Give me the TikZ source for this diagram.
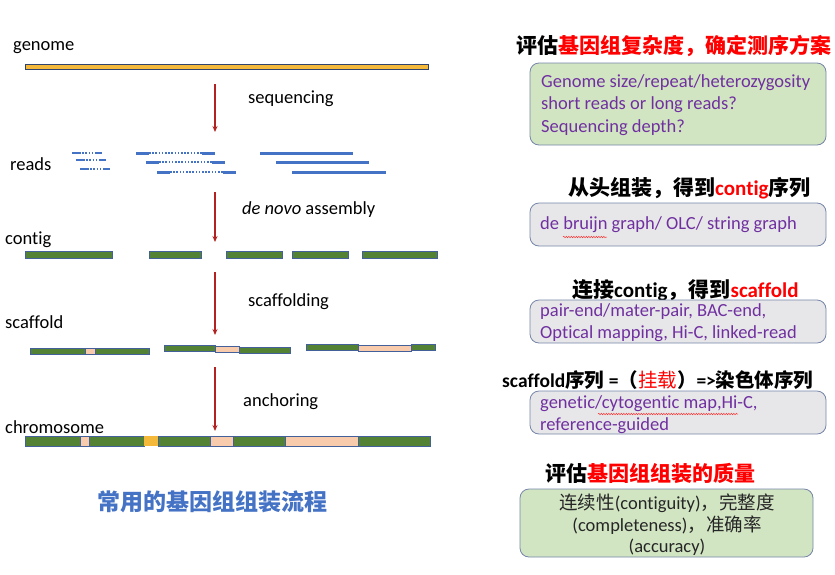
\documentclass[tikz,border=0pt]{standalone}
\usepackage{fontspec}
\setmainfont{Carlito}[Ligatures=NoCommon]
\newfontfamily\lat{Carlito}[Ligatures=NoCommon]
\newfontfamily\cjk{Noto Sans CJK SC}
\usetikzlibrary{arrows.meta,decorations.pathmorphing}
\definecolor{readblue}{HTML}{4472C4}
\definecolor{cgreen}{HTML}{548235}
\definecolor{peach}{HTML}{F8CBAD}
\definecolor{gold}{HTML}{F4B93A}
\definecolor{outl}{HTML}{44609A}
\definecolor{arr}{HTML}{B22222}
\definecolor{boxgreen}{HTML}{D2E5C3}
\definecolor{boxgray}{HTML}{E7E7E9}
\definecolor{boxline}{HTML}{7585A8}
\definecolor{purp}{HTML}{7030A0}
\definecolor{tred}{HTML}{FF0000}
\begin{document}
\begin{tikzpicture}[x=1pt,y=-1pt,
  lab/.style={anchor=west,inner sep=0,font=\fontsize{18.5}{20}\selectfont},
  seg/.style={draw=outl,line width=0.6pt},
  gseg/.style={seg,fill=cgreen},
  pseg/.style={seg,fill=peach},
  yseg/.style={seg,fill=gold},
  rd/.style={readblue,line width=3pt},
  rdot/.style={readblue,line width=1.6pt,dash pattern=on 1.6pt off 1.6pt},
  flow/.style={arr,line width=1.1pt,-{Stealth[length=6pt,width=5pt]}},
  infobox/.style={draw=boxline,line width=0.8pt,rounded corners=9pt},
  boxtxt/.style={anchor=west,inner sep=0,text=purp,font=\fontsize{18.5}{20}\selectfont},
  ttl/.style={anchor=west,inner sep=0,font=\cjk\bfseries\fontsize{21}{23}\selectfont},
  wavy/.style={red!80,line width=0.5pt,decorate,decoration={snake,amplitude=0.7pt,segment length=2.5pt}}
]
\useasboundingbox (0,0) rectangle (835,574);
% left labels
\node[lab] (lgen) at (13,48) {genome};
\node[lab] (lreads) at (10,164) {reads};
\node[lab] (lcont) at (5,240) {contig};
\node[lab] (lscaf) at (5,322) {scaffold};
\node[lab] (lchr) at (5,427) {chromosome};
\node[lab] (lseq) at (248,99) {sequencing};
\node[lab] (lden) at (242,210) {\textit{de novo} assembly};
\node[lab] (lsf) at (248,302) {scaffolding};
\node[lab] (lanc) at (243,402) {anchoring};
% genome bar
\draw[draw=outl!70!black,line width=0.6pt,fill=gold] (25,64) rectangle (428,69);
% reads: small
\foreach \x/\y in {72/153,76/160,80/169}{
  \draw[rd,line width=2.4pt] (\x,\y) -- ++(7,0);
  \draw[rdot] (\x+7,\y) -- ++(17,0);
  \draw[rd,line width=2.4pt] (\x+24,\y) -- ++(6,0);
}
\foreach \x/\y in {136/153,146/162,157/172}{
  \draw[rd] (\x,\y) -- ++(13,0);
  \draw[rdot] (\x+13,\y) -- ++(53,0);
  \draw[rd] (\x+66,\y) -- ++(13,0);
}
\draw[rd] (260,153) -- (353,153);
\draw[rd] (276,162) -- (369,162);
\draw[rd] (292,172) -- (386,172);
% contigs
\foreach \a/\b in {25/112,149/201,226/282,292/348,362/437}{
  \draw[gseg] (\a,251) rectangle (\b,258);
}
% scaffolds
\draw[gseg] (30,348) rectangle (85,354);
\draw[pseg] (85,348) rectangle (95,354);
\draw[gseg] (95,348) rectangle (149,354);
\draw[gseg] (164,345) rectangle (215,351);
\draw[pseg] (215,346) rectangle (239,352);
\draw[gseg] (239,347) rectangle (290,353);
\draw[gseg] (306,344) rectangle (358,350);
\draw[pseg] (358,345) rectangle (411,351);
\draw[gseg] (411,344) rectangle (435,350);
% chromosome
\draw[gseg] (25,436) rectangle (80,446);
\draw[pseg] (80,436) rectangle (89,446);
\draw[gseg] (89,436) rectangle (144,446);
\draw[yseg,draw=none] (144,436) rectangle (158,446);
\draw[gseg] (158,436) rectangle (210,446);
\draw[pseg] (210,436) rectangle (233,446);
\draw[gseg] (233,436) rectangle (285,446);
\draw[pseg] (285,436) rectangle (358,446);
\draw[gseg] (358,436) rectangle (430,446);
% arrows
\coordinate (a1s) at (215,84); \coordinate (a1e) at (215,132);
\coordinate (a2s) at (215,192); \coordinate (a2e) at (215,242);
\coordinate (a3s) at (215,272); \coordinate (a3e) at (215,335);
\coordinate (a4s) at (215,367); \coordinate (a4e) at (215,431);
\draw[flow] (a1s) -- (a1e);
\draw[flow] (a2s) -- (a2e);
\draw[flow] (a3s) -- (a3e);
\draw[flow] (a4s) -- (a4e);
% caption
\node[inner sep=0,text=readblue,font=\cjk\bfseries\fontsize{23}{25}\selectfont] (cap) at (212,502) {常用的基因组组装流程};
% right side
\node[ttl] (t1) at (516,46) {评估\textcolor{tred}{基因组复杂度，确定测序方案}};
\draw[infobox,fill=boxgreen] (530,63) rectangle (826,145);
\node[boxtxt] (b1a) at (541,83) {Genome size/repeat/heterozygosity};
\node[boxtxt] (b1b) at (541,105) {short reads or long reads?};
\node[boxtxt] (b1c) at (541,128) {Sequencing depth?};

\node[ttl] (t2) at (568,188) {从头组装，得到\textcolor{tred}{\lat\bfseries contig}序列};
\draw[infobox,fill=boxgray] (530,203) rectangle (826,246);
\node[boxtxt] (b2a) at (540,225) {de bruijn graph/ OLC/ string graph};
\draw[wavy] (563,237) -- (607,237);

\node[ttl] (t3) at (572,290) {连接{\lat\bfseries contig}，得到\textcolor{tred}{\lat\bfseries scaffold}};
\draw[infobox,fill=boxgray] (530,300) rectangle (826,343);
\node[boxtxt] (b3a) at (540,312) {pair-end/mater-pair, BAC-end,};
\node[boxtxt] (b3b) at (540,334) {Optical mapping, Hi-C, linked-read};

\node[ttl,font=\cjk\bfseries\fontsize{19.5}{22}\selectfont] (t4) at (502,380) {{\lat\bfseries scaffold}序列 {\lat\bfseries =}（\textcolor{tred}{\mdseries 挂载}）{\lat\bfseries =>}染色体序列};
\draw[infobox,fill=boxgray] (530,391) rectangle (826,434);
\node[boxtxt] (b4a) at (540,404) {genetic/cytogentic map,Hi-C,};
\node[boxtxt] (b4b) at (540,426) {reference-guided};
\draw[wavy] (598,414) -- (738,414);

\node[ttl] (t5) at (545,473) {评估\textcolor{tred}{基因组组装的质量}};
\draw[infobox,fill=boxgreen] (520,489) rectangle (813,557);
\node[inner sep=0,text=black!85,font=\fontsize{18.5}{20}\selectfont] (b5a) at (667,503) {{\cjk 连续性}(contiguity){\cjk ，完整度}};
\node[inner sep=0,text=black!85,font=\fontsize{18.5}{20}\selectfont] (b5b) at (667,525) {(completeness){\cjk ，准确率}};
\node[inner sep=0,text=black!85,font=\fontsize{18.5}{20}\selectfont] (b5c) at (667,547) {(accuracy)};
\end{tikzpicture}
\end{document}
